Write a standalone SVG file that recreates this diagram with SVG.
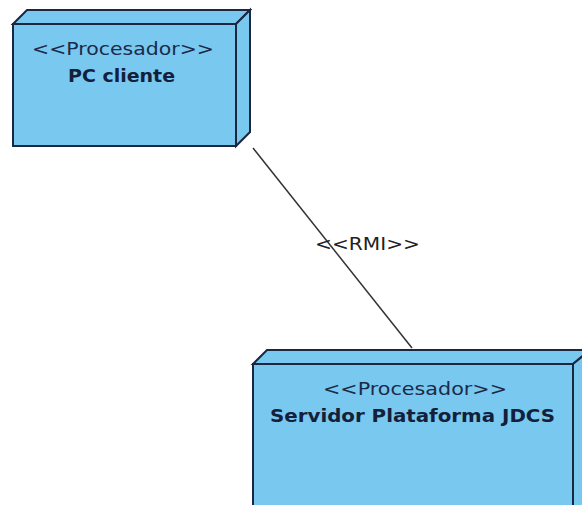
<svg xmlns="http://www.w3.org/2000/svg" width="582" height="505" viewBox="0 0 582 505">
<style>
.face{fill:#78c8f0;stroke:#1b2740;stroke-width:2;stroke-linejoin:miter}
.st{font-family:"DejaVu Sans","Liberation Sans",sans-serif;font-size:17px;fill:#1c2a48}
.nm{font-family:"DejaVu Sans","Liberation Sans",sans-serif;font-size:17px;font-weight:bold;fill:#14203a}
.lbl{font-family:"DejaVu Sans","Liberation Sans",sans-serif;font-size:17px;fill:#222}
.conn{stroke:#333;stroke-width:1.5;fill:none}
</style>
<rect width="582" height="505" fill="#fff"/>
<g id="connectors">
<line class="conn" x1="253" y1="148" x2="412" y2="348"/>
<text class="lbl" x="315" y="250" textLength="105" lengthAdjust="spacingAndGlyphs">&lt;&lt;RMI&gt;&gt;</text>
</g>
<g id="pc-cliente">
<polygon class="face" points="13,24 27,10 250,10 236,24"/>
<polygon class="face" points="236,24 250,10 250,132 236,146"/>
<rect class="face" x="13" y="24" width="223" height="122"/>
<text class="st" x="32" y="55" textLength="182" lengthAdjust="spacingAndGlyphs">&lt;&lt;Procesador&gt;&gt;</text>
<text class="nm" x="68" y="82" textLength="107" lengthAdjust="spacingAndGlyphs">PC cliente</text>
</g>
<g id="servidor">
<polygon class="face" points="253,364 267,350 590,350 573,364"/>
<polygon class="face" points="573,364 590,350 590,520 573,520"/>
<rect class="face" x="253" y="364" width="320" height="160"/>
<text class="st" x="323" y="395" textLength="184" lengthAdjust="spacingAndGlyphs">&lt;&lt;Procesador&gt;&gt;</text>
<text class="nm" x="270" y="422" textLength="285" lengthAdjust="spacingAndGlyphs">Servidor Plataforma JDCS</text>
</g>
</svg>
